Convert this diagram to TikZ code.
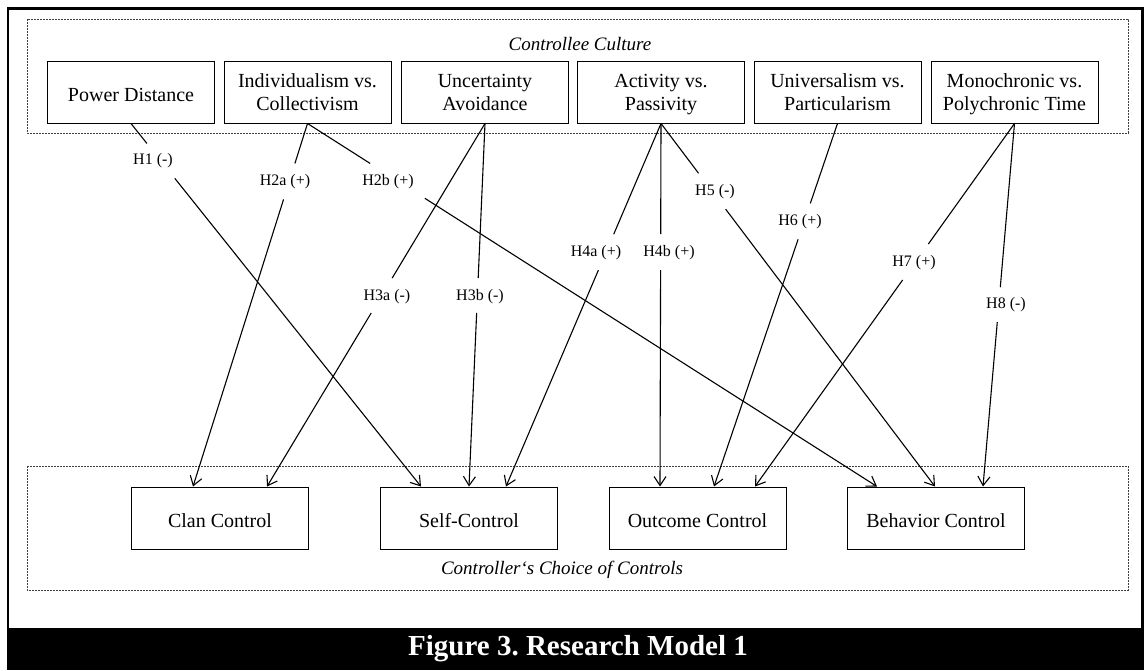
\documentclass[tikz,border=0pt]{standalone}
\usepackage{fontspec}
\setmainfont{Liberation Serif}
\usetikzlibrary{arrows.meta,calc}
\newcommand{\lowertext}[1]{\raisebox{-2.5pt}[\height][\depth]{#1}}
\newcommand{\twolines}[2]{\lowertext{\begin{tabular}{@{}c@{}}#1\\#2\end{tabular}}}
\begin{document}
\frenchspacing
\begin{tikzpicture}[x=1pt,y=-1pt,
  topbox/.style={draw=black, line width=1pt, minimum width=167pt, minimum height=62pt, inner sep=0pt, font=\fontsize{20}{23}\selectfont},
  botbox/.style={draw=black, line width=1pt, minimum width=177pt, minimum height=62pt, inner sep=0pt, font=\fontsize{20}{23}\selectfont},
  grp/.style={draw=black!75, line width=0.8pt, dash pattern=on 2pt off 1pt},
  grplabel/.style={font=\itshape\fontsize{19}{22}\selectfont, inner sep=0pt},
  hyp/.style={font=\fontsize{16}{18}\selectfont, inner sep=0pt},
  link/.style={line width=1.1pt, -{Straight Barb[length=9pt,width=12pt]}},
  ]
\useasboundingbox (0,0) rectangle (1144,670);
% outer frame and caption bar
\draw[line width=2.8pt] (8,628) |- (1142.5,8.8) -- (1142.5,628);
\fill[black] (6.5,628) rectangle (1144,670);
\node[font=\bfseries\fontsize{29}{32}\selectfont, text=white] (cap) at (578,649) {Figure 3. Research Model 1};

% group boxes
\draw[grp] (27,19) rectangle (1128,133);
\draw[grp] (27,466) rectangle (1128,590);
\node[grplabel] (cult) at (580,44) {Controllee Culture};
\node[grplabel] (choice) at (562,570) {Controller‘s Choice of Controls};

% top boxes
\node[topbox] (pd) at (131,92) {\lowertext{Power Distance}};
\node[topbox] (ic) at (307.5,92) {\twolines{Individualism vs.}{Collectivism}};
\node[topbox] (ua) at (485,92) {\twolines{Uncertainty}{Avoidance}};
\node[topbox] (ap) at (661,92) {\twolines{Activity vs.}{Passivity}};
\node[topbox] (up) at (837.5,92) {\twolines{Universalism vs.}{Particularism}};
\node[topbox] (mp) at (1014.5,92) {\twolines{Monochronic vs.}{Polychronic Time}};

% bottom boxes
\node[botbox] (clan) at (220,518) {\lowertext{Clan Control}};
\node[botbox] (self) at (469,518) {\lowertext{Self-Control}};
\node[botbox] (outc) at (697.5,518) {\lowertext{Outcome Control}};
\node[botbox] (beh) at (936,518) {\lowertext{Behavior Control}};

% arrow targets
\coordinate (t1) at ([xshift=-48pt]self.north);
\coordinate (t2a) at ([xshift=-27pt]clan.north);
\coordinate (t2b) at ([xshift=-59pt]beh.north);
\coordinate (t3a) at ([xshift=47pt]clan.north);
\coordinate (t3b) at (self.north);
\coordinate (t4a) at ([xshift=37pt]self.north);
\coordinate (t4b) at ([xshift=-37.5pt]outc.north);
\coordinate (t5) at ([xshift=-1pt]beh.north);
\coordinate (t6) at ([xshift=16.5pt]outc.north);
\coordinate (t7) at ([xshift=57.5pt]outc.north);
\coordinate (t8) at ([xshift=47pt]beh.north);

% gap ends
\coordinate (g1a) at ($(pd.south)!0.055!(t1)$);   \coordinate (g1b) at ($(pd.south)!0.151!(t1)$);
\coordinate (g2aa) at ($(ic.south)!0.110!(t2a)$); \coordinate (g2ab) at ($(ic.south)!0.209!(t2a)$);
\coordinate (g2ba) at ($(ic.south)!0.110!(t2b)$); \coordinate (g2bb) at ($(ic.south)!0.206!(t2b)$);
\coordinate (g3aa) at ($(ua.south)!0.426!(t3a)$); \coordinate (g3ab) at ($(ua.south)!0.522!(t3a)$);
\coordinate (g3ba) at ($(ua.south)!0.426!(t3b)$); \coordinate (g3bb) at ($(ua.south)!0.522!(t3b)$);
\coordinate (g4aa) at ($(ap.south)!0.305!(t4a)$); \coordinate (g4ab) at ($(ap.south)!0.404!(t4a)$);
\coordinate (g4ba) at ($(ap.south)!0.305!(t4b)$); \coordinate (g4bb) at ($(ap.south)!0.404!(t4b)$);
\coordinate (g5a) at ($(ap.south)!0.137!(t5)$);   \coordinate (g5b) at ($(ap.south)!0.236!(t5)$);
\coordinate (g6a) at ($(up.south)!0.220!(t6)$);   \coordinate (g6b) at ($(up.south)!0.319!(t6)$);
\coordinate (g7a) at ($(mp.south)!0.332!(t7)$);   \coordinate (g7b) at ($(mp.south)!0.431!(t7)$);
\coordinate (g8a) at ($(mp.south)!0.451!(t8)$);   \coordinate (g8b) at ($(mp.south)!0.547!(t8)$);

% connectors
\draw[link] (pd.south) -- (g1a) (g1b) -- (t1);
\draw[link] (ic.south) -- (g2aa) (g2ab) -- (t2a);
\draw[link] (ic.south) -- (g2ba) (g2bb) -- (t2b);
\draw[link] (ua.south) -- (g3aa) (g3ab) -- (t3a);
\draw[link] (ua.south) -- (g3ba) (g3bb) -- (t3b);
\draw[link] (ap.south) -- (g4aa) (g4ab) -- (t4a);
\draw[link] (ap.south) -- (g4ba) (g4bb) -- (t4b);
\draw[link] (ap.south) -- (g5a) (g5b) -- (t5);
\draw[link] (up.south) -- (g6a) (g6b) -- (t6);
\draw[link] (mp.south) -- (g7a) (g7b) -- (t7);
\draw[link] (mp.south) -- (g8a) (g8b) -- (t8);

% hypothesis labels
\node[hyp] (h1) at (153,161) {H1 (-)};
\node[hyp] (h2a) at (285,182) {H2a (+)};
\node[hyp] (h2b) at (388,182) {H2b (+)};
\node[hyp] (h3a) at (387,297) {H3a (-)};
\node[hyp] (h3b) at (480,297) {H3b (-)};
\node[hyp] (h4a) at (596,253) {H4a (+)};
\node[hyp] (h4b) at (669,253) {H4b (+)};
\node[hyp] (h5) at (715,192) {H5 (-)};
\node[hyp] (h6) at (800,222) {H6 (+)};
\node[hyp] (h7) at (914,263) {H7 (+)};
\node[hyp] (h8) at (1006,305) {H8 (-)};
\end{tikzpicture}
\end{document}
